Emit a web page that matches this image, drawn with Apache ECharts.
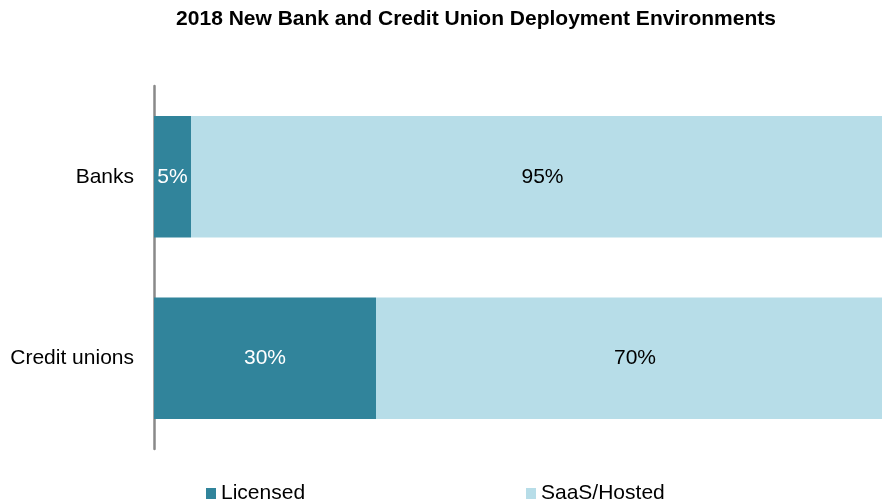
<!DOCTYPE html>
<html>
<head>
<meta charset="utf-8">
<script src="https://cdn.jsdelivr.net/npm/echarts@6/dist/echarts.min.js"></script>
<style>html,body{margin:0;padding:0;background:#fff;overflow:hidden}#c{width:900px;height:504px}</style>
</head>
<body>
<div id="c"></div>
<script>
const categories = ['Banks', 'Credit unions'];
const seriesNames = ['Licensed', 'SaaS/Hosted'];
const licensed = [5, 30];
const saas = [95, 70];

const chart = echarts.init(document.getElementById('c'));
const font = 'Liberation Sans, Arial, sans-serif';
const legendText = { fontFamily: font, fontSize: 21, color: '#000' };
chart.setOption({
  animation: false,
  title: {
    text: '2018 New Bank and Credit Union Deployment Environments',
    left: 476, top: 9, textAlign: 'center', padding: 0,
    textStyle: { fontFamily: font, fontSize: 21, fontWeight: 'bold', color: '#000' }
  },
  legend: [
    { data: [seriesNames[0]], left: 206, top: 483, padding: 0, icon: 'rect', itemWidth: 10, itemHeight: 11,
      textStyle: legendText },
    { data: [seriesNames[1]], left: 526, top: 483, padding: 0, icon: 'rect', itemWidth: 10, itemHeight: 11,
      textStyle: legendText }
  ],
  grid: { left: 154, width: 740, top: 86, height: 363, containLabel: false },
  xAxis: { type: 'value', min: 0, max: 100, show: false },
  yAxis: {
    type: 'category', data: categories, inverse: true,
    axisLine: { show: true, lineStyle: { color: '#898989', width: 2.5 } },
    axisTick: { show: false },
    axisLabel: { fontFamily: font, fontSize: 21, color: '#000', margin: 20 }
  },
  series: [
    { name: seriesNames[0], type: 'bar', stack: 't', data: licensed, barCategoryGap: '33%',
      itemStyle: { color: '#31849B' },
      label: { show: true, position: 'inside', formatter: '{c}%', color: '#fff', fontFamily: font, fontSize: 21 } },
    { name: seriesNames[1], type: 'bar', stack: 't', data: saas, barCategoryGap: '33%',
      itemStyle: { color: '#B7DDE8' },
      label: { show: true, position: 'inside', formatter: '{c}%', color: '#000', fontFamily: font, fontSize: 21 } }
  ]
});
</script>
</body>
</html>
